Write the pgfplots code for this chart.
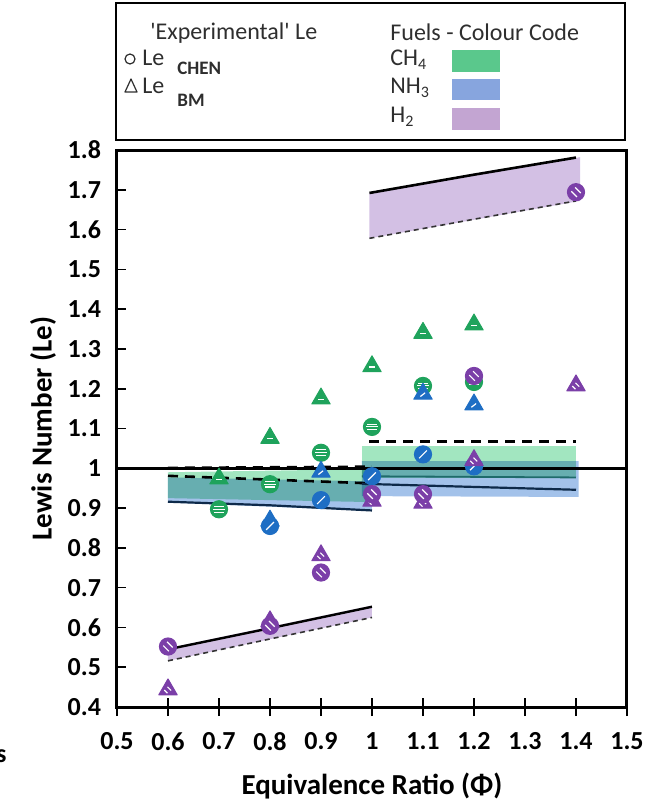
\documentclass[border=0pt]{standalone}
\usepackage{fontspec}
\setmainfont{Carlito}
\usepackage{pgfplots}
\pgfplotsset{compat=1.18}
\definecolor{ch4}{HTML}{1FA35C}
\definecolor{nh3}{HTML}{1E6EC4}
\definecolor{hh}{HTML}{7B3FA8}
\definecolor{ch4band}{HTML}{A2E6C0}
\definecolor{nh3band}{HTML}{A3C2EA}
\definecolor{hhband}{HTML}{D3C0E4}
\definecolor{navy}{HTML}{0E2A4A}
\definecolor{tealline}{HTML}{1F6B6B}
\definecolor{swch4}{HTML}{5AC88C}
\definecolor{swnh3}{HTML}{87A5DE}
\definecolor{swhh}{HTML}{C3A5D2}
\definecolor{legtext}{HTML}{2E2E2E}

% circle with three horizontal stripes (CH4)
\pgfdeclareplotmark{cH}{%
 \pgfpathcircle{\pgfpointorigin}{\pgfplotmarksize}\pgfusepathqfillstroke
 \begin{pgfscope}\pgfsetstrokecolor{white}\pgfsetlinewidth{0.55pt}%
 \pgfpathmoveto{\pgfqpoint{-0.55\pgfplotmarksize}{0.33\pgfplotmarksize}}\pgfpathlineto{\pgfqpoint{0.55\pgfplotmarksize}{0.33\pgfplotmarksize}}%
 \pgfpathmoveto{\pgfqpoint{-0.65\pgfplotmarksize}{0pt}}\pgfpathlineto{\pgfqpoint{0.65\pgfplotmarksize}{0pt}}%
 \pgfpathmoveto{\pgfqpoint{-0.55\pgfplotmarksize}{-0.33\pgfplotmarksize}}\pgfpathlineto{\pgfqpoint{0.55\pgfplotmarksize}{-0.33\pgfplotmarksize}}%
 \pgfusepathqstroke\end{pgfscope}}
% triangle with one horizontal stripe (CH4)
\pgfdeclareplotmark{tH}{%
 \pgfpathmoveto{\pgfqpoint{0pt}{\pgfplotmarksize}}%
 \pgfpathlineto{\pgfqpoint{-0.866\pgfplotmarksize}{-0.5\pgfplotmarksize}}%
 \pgfpathlineto{\pgfqpoint{0.866\pgfplotmarksize}{-0.5\pgfplotmarksize}}%
 \pgfpathclose\pgfusepathqfillstroke
 \begin{pgfscope}\pgfsetstrokecolor{white}\pgfsetlinewidth{0.55pt}%
 \pgfpathmoveto{\pgfqpoint{-0.3\pgfplotmarksize}{-0.05\pgfplotmarksize}}\pgfpathlineto{\pgfqpoint{0.3\pgfplotmarksize}{-0.05\pgfplotmarksize}}%
 \pgfusepathqstroke\end{pgfscope}}
% circle with one diagonal stripe (NH3)
\pgfdeclareplotmark{cD}{%
 \pgfpathcircle{\pgfpointorigin}{\pgfplotmarksize}\pgfusepathqfillstroke
 \begin{pgfscope}\pgfsetstrokecolor{white}\pgfsetlinewidth{0.6pt}%
 \pgfpathmoveto{\pgfqpoint{-0.45\pgfplotmarksize}{-0.45\pgfplotmarksize}}\pgfpathlineto{\pgfqpoint{0.45\pgfplotmarksize}{0.45\pgfplotmarksize}}%
 \pgfusepathqstroke\end{pgfscope}}
% triangle with one diagonal stripe (NH3)
\pgfdeclareplotmark{tD}{%
 \pgfpathmoveto{\pgfqpoint{0pt}{\pgfplotmarksize}}%
 \pgfpathlineto{\pgfqpoint{-0.866\pgfplotmarksize}{-0.5\pgfplotmarksize}}%
 \pgfpathlineto{\pgfqpoint{0.866\pgfplotmarksize}{-0.5\pgfplotmarksize}}%
 \pgfpathclose\pgfusepathqfillstroke
 \begin{pgfscope}\pgfsetstrokecolor{white}\pgfsetlinewidth{0.6pt}%
 \pgfpathmoveto{\pgfqpoint{-0.25\pgfplotmarksize}{-0.25\pgfplotmarksize}}\pgfpathlineto{\pgfqpoint{0.2\pgfplotmarksize}{0.1\pgfplotmarksize}}%
 \pgfusepathqstroke\end{pgfscope}}
% circle with two diagonal stripes (H2)
\pgfdeclareplotmark{cDD}{%
 \pgfpathcircle{\pgfpointorigin}{\pgfplotmarksize}\pgfusepathqfillstroke
 \begin{pgfscope}\pgfsetstrokecolor{white}\pgfsetlinewidth{0.6pt}%
 \pgfpathmoveto{\pgfqpoint{-0.55\pgfplotmarksize}{0.1\pgfplotmarksize}}\pgfpathlineto{\pgfqpoint{0.1\pgfplotmarksize}{-0.55\pgfplotmarksize}}%
 \pgfpathmoveto{\pgfqpoint{-0.1\pgfplotmarksize}{0.55\pgfplotmarksize}}\pgfpathlineto{\pgfqpoint{0.55\pgfplotmarksize}{-0.1\pgfplotmarksize}}%
 \pgfusepathqstroke\end{pgfscope}}
% triangle with two diagonal stripes (H2)
\pgfdeclareplotmark{tDD}{%
 \pgfpathmoveto{\pgfqpoint{0pt}{\pgfplotmarksize}}%
 \pgfpathlineto{\pgfqpoint{-0.866\pgfplotmarksize}{-0.5\pgfplotmarksize}}%
 \pgfpathlineto{\pgfqpoint{0.866\pgfplotmarksize}{-0.5\pgfplotmarksize}}%
 \pgfpathclose\pgfusepathqfillstroke
 \begin{pgfscope}\pgfsetstrokecolor{white}\pgfsetlinewidth{0.55pt}%
 \pgfpathmoveto{\pgfqpoint{-0.35\pgfplotmarksize}{-0.05\pgfplotmarksize}}\pgfpathlineto{\pgfqpoint{-0.05\pgfplotmarksize}{-0.35\pgfplotmarksize}}%
 \pgfpathmoveto{\pgfqpoint{-0.05\pgfplotmarksize}{0.25\pgfplotmarksize}}\pgfpathlineto{\pgfqpoint{0.3\pgfplotmarksize}{-0.1\pgfplotmarksize}}%
 \pgfusepathqstroke\end{pgfscope}}

\begin{document}
\begin{tikzpicture}[x=0.5pt,y=0.5pt]
\path[use as bounding box] (0,0) rectangle (654,805);

% ---------- legend box ----------
\draw[line width=1.4pt] (116,802) rectangle (625,665);
\begin{scope}[every node/.style={inner sep=0pt, text=legtext}]
\node[anchor=base west, font=\fontsize{12}{14}\selectfont] at (150,765) {\textquotesingle Experimental\textquotesingle{} Le};
\draw[legtext, line width=0.6pt] (130,746) circle (5);
\node[anchor=base west, font=\fontsize{12}{14}\selectfont] at (142,739) {Le};
\node[anchor=base west, font=\bfseries\fontsize{9.5}{11}\selectfont] at (177,730) {CHEN};
\draw[legtext, line width=0.6pt, line join=round] (125,713) -- (131,726) -- (137,713) -- cycle;
\node[anchor=base west, font=\fontsize{12}{14}\selectfont] at (142,711) {Le};
\node[anchor=base west, font=\bfseries\fontsize{9.5}{11}\selectfont] at (177,698) {BM};
\node[anchor=base west, font=\fontsize{12}{14}\selectfont] at (390,764) {Fuels - Colour Code};
\node[anchor=base west, font=\fontsize{12}{14}\selectfont] at (390,739) {CH\textsubscript{4}};
\node[anchor=base west, font=\fontsize{12}{14}\selectfont] at (390,711) {NH\textsubscript{3}};
\node[anchor=base west, font=\fontsize{12}{14}\selectfont] at (390,682) {H\textsubscript{2}};
\end{scope}
\fill[swch4] (452,755) rectangle (500,733);
\fill[swnh3] (452,726) rectangle (500,705);
\fill[swhh] (452,697) rectangle (500,675);

\node[anchor=base east, inner sep=0pt, font=\bfseries\fontsize{13}{14}\selectfont] at (7,42) {s};

% ---------- axis ----------
\begin{axis}[
  at={(58.5pt,49pt)}, anchor=south west,
  scale only axis, width=255pt, height=278.5pt,
  xmin=0.5, xmax=1.5, ymin=0.4, ymax=1.8,
  axis line style={line width=1.5pt},
  xtick={0.5,0.6,0.7,0.8,0.9,1.0,1.1,1.2,1.3,1.4,1.5},
  xticklabels={0.5,0.6,0.7,0.8,0.9,1,1.1,1.2,1.3,1.4,1.5},
  ytick={0.4,0.5,0.6,0.7,0.8,0.9,1.0,1.1,1.2,1.3,1.4,1.5,1.6,1.7,1.8},
  yticklabels={0.4,0.5,0.6,0.7,0.8,0.9,1,1.1,1.2,1.3,1.4,1.5,1.6,1.7,1.8},
  xtick pos=bottom, ytick pos=left,
  xtick align=center, ytick align=inside,
  major tick length=4.5pt,
  xtick style={/pgfplots/major tick length=9pt},
  tick style={line width=0.8pt, black},
  ticklabel style={font=\bfseries\fontsize{13}{14}\selectfont},
  xticklabel style={yshift=-7pt},
  yticklabel style={xshift=-4.5pt},
  xlabel={Equivalence Ratio (Φ)},
  ylabel={Lewis Number (Le)},
  label style={font=\bfseries\fontsize{14.5}{16}\selectfont},
  xlabel style={yshift=-4.5pt},
  ylabel style={yshift=-1pt},
]
% H2 bands
\addplot[fill=hhband, draw=none] coordinates {(0.6,0.516) (1.0,0.625) (1.0,0.655) (0.6,0.548)};
\addplot[fill=hhband, draw=none] coordinates {(0.995,1.578) (1.408,1.672) (1.408,1.782) (0.995,1.692)};

% ---------- markers ----------
% CH4 - Le CHEN (circles)
\addplot[only marks, mark=cH, mark size=4.3pt, color=ch4, mark options={line width=0.5pt}] coordinates {
 (0.7,0.897) (0.8,0.960) (0.9,1.039) (1.0,1.104) (1.1,1.207) (1.2,1.217)};
% CH4 - Le BM (triangles)
\addplot[only marks, mark=tH, mark size=5.3pt, color=ch4, mark options={line width=0.5pt, line join=round}] coordinates {
 (0.7,0.974) (0.8,1.076) (0.9,1.175) (1.0,1.256) (1.1,1.340) (1.2,1.361)};
% NH3 - Le BM (triangles)
\addplot[only marks, mark=tD, mark size=5.3pt, color=nh3, mark options={line width=0.5pt, line join=round}] coordinates {
 (0.8,0.868) (0.9,0.991) (1.1,1.187) (1.2,1.160)};
% NH3 - Le CHEN (circles)
\addplot[only marks, mark=cD, mark size=4.3pt, color=nh3, mark options={line width=0.5pt}] coordinates {
 (0.8,0.855) (0.9,0.920) (1.0,0.980) (1.1,1.035) (1.2,1.005)};
% H2 - Le BM (triangles)
\addplot[only marks, mark=tDD, mark size=5.3pt, color=hh, mark options={line width=0.5pt, line join=round}] coordinates {
 (0.6,0.444) (0.8,0.615) (0.9,0.781) (1.0,0.918) (1.1,0.913) (1.2,1.020) (1.4,1.208)};
% H2 - Le CHEN (circles)
\addplot[only marks, mark=cDD, mark size=4.3pt, color=hh, mark options={line width=0.5pt}] coordinates {
 (0.6,0.552) (0.8,0.604) (0.9,0.738) (1.0,0.935) (1.1,0.935) (1.2,1.232) (1.4,1.694)};

% ---------- CH4 / NH3 bands (multiply) ----------
\addplot[fill=ch4band, draw=none, blend mode=multiply] coordinates {(0.6,0.925) (1.0,0.915) (1.0,0.998) (0.6,0.990)};
\addplot[fill=nh3band, draw=none, blend mode=multiply] coordinates {(0.6,0.914) (1.0,0.893) (1.0,0.967) (0.6,0.977)};
\addplot[fill=ch4band, draw=none, blend mode=multiply] coordinates {(0.98,0.975) (1.4,0.975) (1.4,1.055) (0.98,1.055)};
\addplot[fill=nh3band, draw=none, blend mode=multiply] coordinates {(0.98,0.930) (1.405,0.928) (1.405,1.018) (0.98,1.018)};

% ---------- lines ----------
\addplot[black, line width=1.5pt] coordinates {(0.5,1.0) (1.5,1.0)};
\addplot[black, line width=1.3pt, dash pattern=on 5pt off 3.5pt] coordinates {(0.6,1.001) (1.0,1.004)};
\addplot[black, line width=1.3pt, dash pattern=on 5pt off 3.5pt] coordinates {(0.6,0.981) (1.0,0.962)};
\addplot[black, line width=1.3pt, dash pattern=on 5pt off 3.5pt] coordinates {(0.995,1.068) (1.4,1.068)};
\addplot[navy, line width=1.1pt] coordinates {(0.6,0.916) (0.8,0.907) (1.0,0.894)};
\addplot[navy, line width=1.1pt] coordinates {(0.98,0.961) (1.4,0.946)};
\addplot[tealline, line width=0.9pt] coordinates {(0.98,0.980) (1.4,0.977)};
% H2 lines
\addplot[black, line width=1.2pt] coordinates {(0.6,0.545) (0.8,0.598) (1.0,0.652)};
\addplot[black!80, line width=0.8pt, dash pattern=on 2.5pt off 2pt] coordinates {(0.6,0.516) (0.8,0.571) (1.0,0.625)};
\addplot[black, line width=1.3pt] coordinates {(0.995,1.692) (1.2,1.738) (1.4,1.781)};
\addplot[black!80, line width=0.8pt, dash pattern=on 2.5pt off 2pt] coordinates {(0.995,1.578) (1.2,1.626) (1.4,1.672)};
\end{axis}
\end{tikzpicture}
\end{document}
